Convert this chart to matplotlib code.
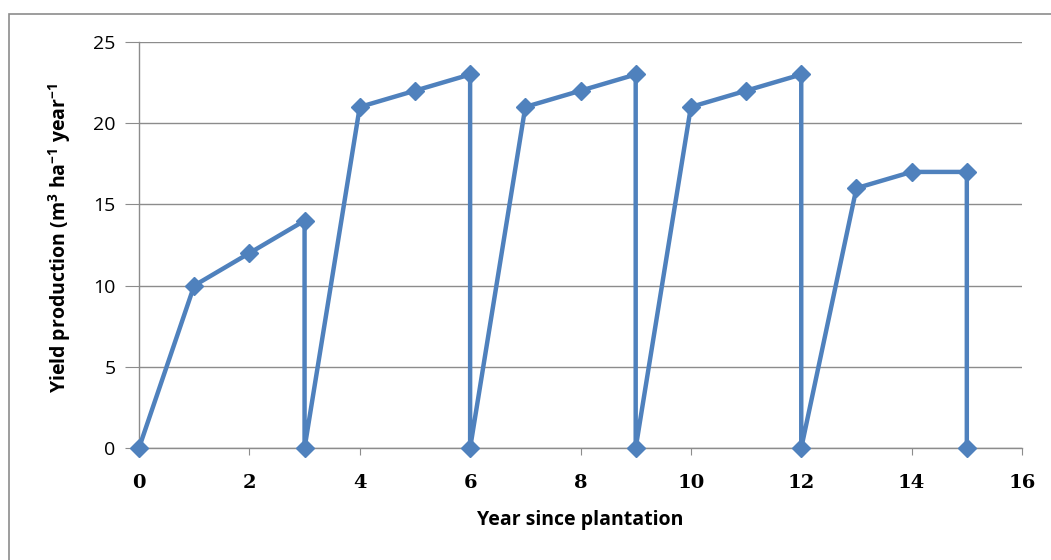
import matplotlib
matplotlib.use("Agg")
import matplotlib.pyplot as plt
from matplotlib.patches import Rectangle

# Yield per year since plantation; each harvest drops the series back to zero
years = [0, 1, 2, 3, 3, 4, 5, 6, 6, 7, 8, 9, 9, 10, 11, 12, 12, 13, 14, 15, 15]
yield_m3 = [0, 10, 12, 14, 0, 21, 22, 23, 0, 21, 22, 23, 0, 21, 22, 23, 0, 16, 17, 17, 0]
x_ticks = [0, 2, 4, 6, 8, 10, 12, 14, 16]
y_ticks = [0, 5, 10, 15, 20, 25]

plt.rcParams["font.family"] = ["Open Sans", "DejaVu Sans"]
plt.rcParams["mathtext.fontset"] = "custom"
plt.rcParams["mathtext.rm"] = "Open Sans:bold"
plt.rcParams["mathtext.bf"] = "Open Sans:bold"
plt.rcParams["mathtext.default"] = "rm"

W, H = 1051, 560
fig = plt.figure(figsize=(W / 100, H / 100), dpi=100)
fig.patch.set_facecolor("white")

# chart-area border
fig.patches.append(Rectangle((9 / W, -0.05), 1.1, (H - 14) / H + 0.05,
                             transform=fig.transFigure, fill=False,
                             edgecolor="#8c8c8c", linewidth=1.2))

ax = fig.add_axes([139 / W, (H - 448) / H, (1022 - 139) / W, (448 - 42) / H])
ax.plot(years, yield_m3, color="#4F81BD", linewidth=3.2, marker="D",
        markersize=9.5, markerfacecolor="#4F81BD", markeredgecolor="#4F81BD",
        clip_on=False, zorder=3)

ax.set_xlim(0, 16)
ax.set_ylim(0, 25)
ax.set_xticks(x_ticks)
ax.set_yticks(y_ticks)
ax.grid(axis="y", color="#8c8c8c", linewidth=1.0)
ax.set_axisbelow(True)
for side in ("top", "right"):
    ax.spines[side].set_visible(False)
for side in ("left", "bottom"):
    ax.spines[side].set_color("#8c8c8c")
    ax.spines[side].set_linewidth(1.0)
ax.tick_params(axis="y", direction="out", length=10, color="#8c8c8c",
               labelsize=14, pad=7)
ax.tick_params(axis="x", direction="out", length=5, color="#8c8c8c", pad=14)
for lab in ax.get_xticklabels():
    lab.set_fontfamily("DejaVu Serif")
    lab.set_fontweight("bold")
    lab.set_fontsize(14)

ax.set_xlabel("Year since plantation", fontsize=14, fontweight="bold", labelpad=13)
ax.set_ylabel("Yield production (m$^{3}$ ha$^{\\mathrm{-1}}$ year$^{\\mathrm{-1}}$",
              fontsize=14, fontweight="bold", labelpad=14.5)
ax.yaxis.label.set_y(0.517)

fig.savefig("out.png", dpi=100)
